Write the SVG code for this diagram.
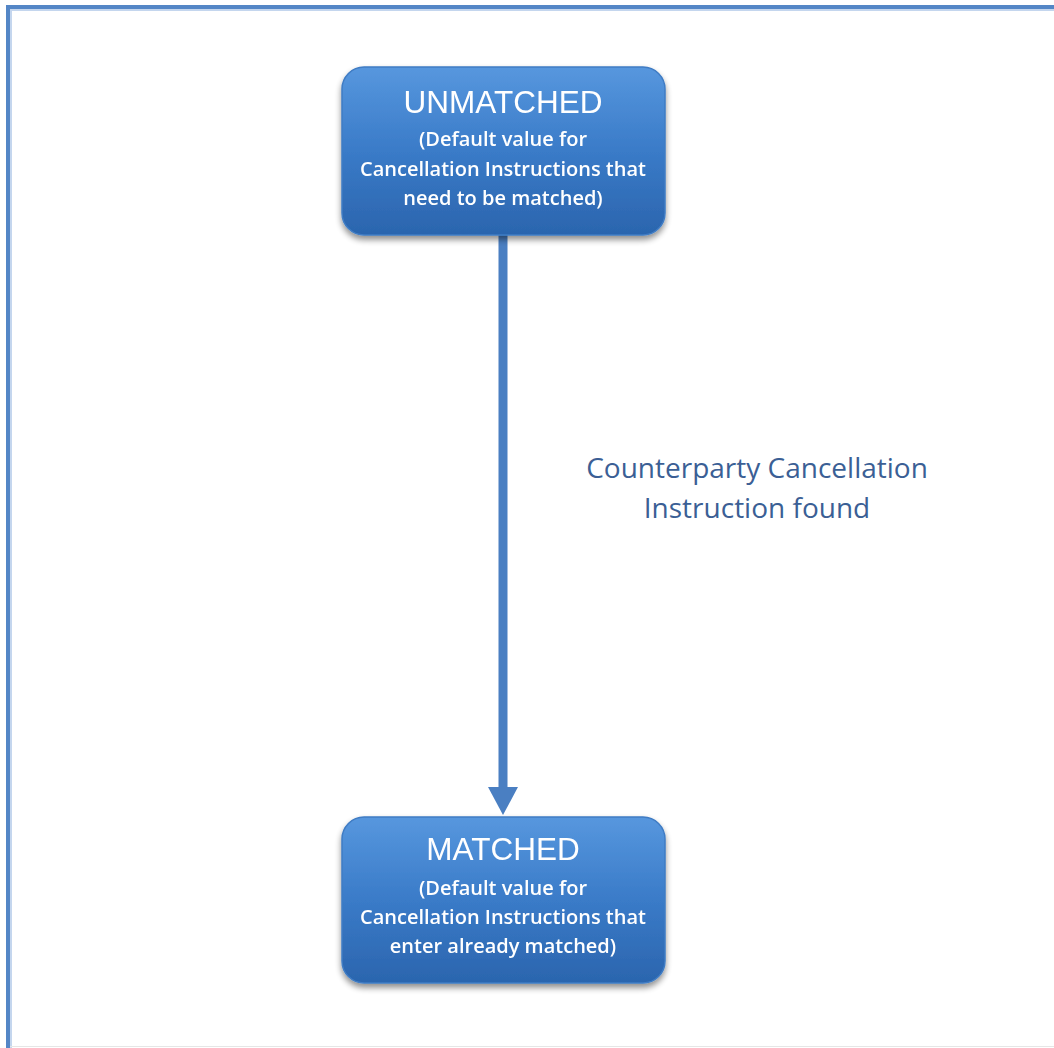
<svg xmlns="http://www.w3.org/2000/svg" width="1054" height="1048" viewBox="0 0 1054 1048">
<style>
.node rect.box{fill:url(#boxGrad);stroke:#3f7cc4;stroke-width:1.5}
.title{font-family:"Liberation Sans","Open Sans",sans-serif;font-size:31.5px;fill:#ffffff;text-anchor:middle}
.sub{font-family:"Open Sans","Liberation Sans",sans-serif;font-size:20px;font-weight:600;fill:#ffffff;text-anchor:middle}
.lbl{font-family:"Open Sans","Liberation Sans",sans-serif;font-size:28px;fill:#3b5f95;text-anchor:middle}
</style>
<defs>
<linearGradient id="boxGrad" x1="0" y1="0" x2="0" y2="1">
<stop offset="0" stop-color="#5797de"/>
<stop offset="0.5" stop-color="#3a7bc8"/>
<stop offset="1" stop-color="#2b65ae"/>
</linearGradient>
<filter id="shadow" x="-10%" y="-10%" width="120%" height="130%">
<feGaussianBlur in="SourceAlpha" stdDeviation="3"/>
<feOffset dx="0" dy="4" result="b"/>
<feComponentTransfer><feFuncA type="linear" slope="0.45"/></feComponentTransfer>
<feMerge><feMergeNode/><feMergeNode in="SourceGraphic"/></feMerge>
</filter>
</defs>
<rect x="0" y="0" width="1054" height="1048" fill="#ffffff"/>
<g id="frame">
<line x1="8" y1="7" x2="1054" y2="7" stroke="#5486c6" stroke-width="4"/>
<line x1="8" y1="5" x2="8" y2="1048" stroke="#5486c6" stroke-width="4"/>
<line x1="10" y1="10" x2="1054" y2="10" stroke="#c4d6ee" stroke-width="2"/>
<line x1="11" y1="10" x2="11" y2="1048" stroke="#c4d6ee" stroke-width="2"/>
<line x1="10" y1="1046.5" x2="1054" y2="1046.5" stroke="#e6e6e6" stroke-width="1"/>
</g>
<g id="connectors">
<line x1="503" y1="235" x2="503" y2="790" stroke="#4a7fc2" stroke-width="9"/>
<path d="M488,787 L518,787 L503,815 Z" fill="#4a7fc2"/>
<text class="lbl" x="757" y="478">Counterparty Cancellation</text>
<text class="lbl" x="757" y="518">Instruction found</text>
</g>
<g id="unmatched" class="node" filter="url(#shadow)">
<rect class="box" x="342" y="67" width="323" height="168" rx="22" ry="22"/>
<text class="title" x="503" y="113">UNMATCHED</text>
<text class="sub" x="503" y="146">(Default value for</text>
<text class="sub" x="503" y="176">Cancellation Instructions that</text>
<text class="sub" x="503" y="205">need to be matched)</text>
</g>
<g id="matched" class="node" filter="url(#shadow)">
<rect class="box" x="342" y="817" width="323" height="166" rx="22" ry="22"/>
<text class="title" x="503" y="860">MATCHED</text>
<text class="sub" x="503" y="895">(Default value for</text>
<text class="sub" x="503" y="924">Cancellation Instructions that</text>
<text class="sub" x="503" y="953">enter already matched)</text>
</g>
</svg>
